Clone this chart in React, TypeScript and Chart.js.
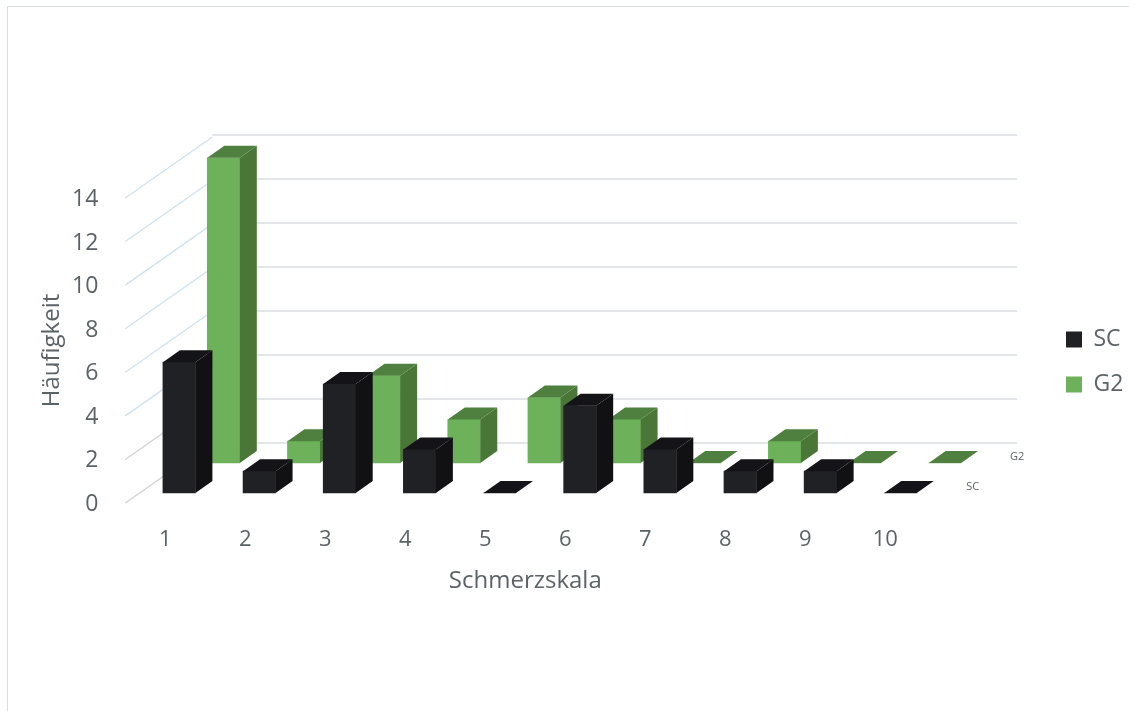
import React, { useEffect, useRef } from "react";
import { Chart, registerables } from "chart.js";

Chart.register(...registerables);

// Pain-scale frequencies per group
const categories = ["1", "2", "3", "4", "5", "6", "7", "8", "9", "10"];
const scValues = [6, 1, 5, 2, 0, 4, 2, 1, 1, 0];
const g2Values = [14, 1, 4, 2, 3, 2, 0, 1, 0, 0];
const gridValues = [0, 2, 4, 6, 8, 10, 12, 14];

const FONT = "'Open Sans', sans-serif";
const TEXT = "#5c6367";

// Colours of the three visible faces of each column
const faces = [
  { front: "#202125", side: "#111114", top: "#141418" },
  { front: "#6db25a", side: "#4a7738", top: "#4f8040" },
];

const BAR_DEPTH = { x: 17, y: 12 };
const WALL_DEPTH = 87;
const WALL_RIGHT = 1009;
const SIDE_RISE = 61;

const toPoints = (values: number[]) => values.map((y, i) => ({ x: i + 1, y }));

const polygon = (ctx: CanvasRenderingContext2D, pts: number[][], fill: string) => {
  ctx.beginPath();
  pts.forEach(([x, y], i) => (i ? ctx.lineTo(x, y) : ctx.moveTo(x, y)));
  ctx.closePath();
  ctx.fillStyle = fill;
  ctx.fill();
};

// Back and side walls of the pseudo-3D box
const wallsPlugin = {
  id: "walls",
  beforeDatasetsDraw(chart: any) {
    const { ctx, scales } = chart;
    const frontX = scales.x.left;
    const backX = frontX + WALL_DEPTH;
    ctx.save();
    ctx.lineWidth = 1.3;
    gridValues.forEach((v) => {
      const fy = scales.y.getPixelForValue(v);
      const by = scales.yWall.getPixelForValue(v);
      ctx.strokeStyle = v <= 2 ? "#d0d2d3" : "#cfe2ec";
      ctx.beginPath();
      ctx.moveTo(frontX, fy);
      ctx.lineTo(backX, fy - SIDE_RISE);
      ctx.stroke();
      ctx.strokeStyle = "#d9dee1";
      ctx.beginPath();
      ctx.moveTo(backX, by);
      ctx.lineTo(WALL_RIGHT, by);
      ctx.stroke();
    });
    ctx.restore();
  },
};

// Side and top faces for the columns, plus the series names on the depth axis
const facesPlugin = {
  id: "faces",
  afterDatasetDraw(chart: any, args: any) {
    const { ctx } = chart;
    const face = faces[args.index];
    const { x: dx, y: dy } = BAR_DEPTH;
    ctx.save();
    args.meta.data.forEach((bar: any) => {
      const l = bar.x - bar.width / 2;
      const r = bar.x + bar.width / 2;
      if (bar.base > bar.y) {
        polygon(ctx, [[r, bar.y], [r + dx, bar.y - dy], [r + dx, bar.base - dy], [r, bar.base]], face.side);
      }
      polygon(ctx, [[l, bar.y], [r, bar.y], [r + dx, bar.y - dy], [l + dx, bar.y - dy]], face.top);
    });
    ctx.restore();
  },
  afterDatasetsDraw(chart: any) {
    const { ctx, scales } = chart;
    const names = [
      { text: "SC", x: scales.xSC, y: scales.ySC },
      { text: "G2", x: scales.xG2, y: scales.yG2 },
    ];
    ctx.save();
    ctx.font = `11px ${FONT}`;
    ctx.fillStyle = TEXT;
    ctx.textAlign = "center";
    ctx.textBaseline = "middle";
    names.forEach((n) => {
      ctx.fillText(n.text, n.x.getPixelForValue(11) - 8, n.y.getPixelForValue(0) - 6);
    });
    ctx.restore();
  },
};

export default function App() {
  const ref = useRef<HTMLCanvasElement>(null);

  useEffect(() => {
    const hidden = { display: false, grid: { display: false } };
    const chart = new Chart(ref.current!, {
      type: "bar",
      data: {
        labels: categories,
        datasets: [
          {
            label: "SC",
            data: toPoints(scValues) as any,
            backgroundColor: faces[0].front,
            xAxisID: "xSC",
            yAxisID: "ySC",
            barThickness: 32.5,
            grouped: false,
            clip: false as any,
          },
          {
            label: "G2",
            data: toPoints(g2Values) as any,
            backgroundColor: faces[1].front,
            xAxisID: "xG2",
            yAxisID: "yG2",
            barThickness: 32.5,
            grouped: false,
            clip: false as any,
          },
        ],
      },
      options: {
        responsive: false,
        animation: false,
        layout: { padding: { top: 5, left: 0, right: 0, bottom: 0 } },
        plugins: {
          tooltip: { enabled: false },
          legend: {
            position: "right",
            maxWidth: 85,
            labels: {
              boxWidth: 16,
              boxHeight: 16,
              padding: 22,
              color: TEXT,
              font: { family: FONT, size: 23 },
            },
          },
        },
        scales: {
          x: {
            type: "category",
            position: "bottom",
            grid: { display: false, drawTicks: false },
            border: { display: false },
            ticks: {
              padding: 24,
              color: TEXT,
              maxRotation: 0,
              autoSkip: false,
              font: { family: FONT, size: 22 },
            },
            title: {
              display: true,
              text: "Schmerzskala",
              color: TEXT,
              font: { family: FONT, size: 24 },
              padding: { top: 115, bottom: 115 },
            },
            afterFit: (s: any) => {
              s.height = 208;
            },
          },
          y: {
            type: "linear",
            position: "left",
            min: 0,
            max: 14,
            grid: { display: false, drawTicks: false },
            border: { display: false },
            ticks: {
              stepSize: 2,
              padding: 27,
              labelOffset: 1.5,
              color: TEXT,
              font: { family: FONT, size: 23 },
            },
            title: {
              display: true,
              text: "Häufigkeit",
              color: TEXT,
              font: { family: FONT, size: 24 },
              padding: { top: 30, bottom: 30 },
            },
            afterFit: (s: any) => {
              s.width = 117.3;
            },
          },
          // The series sit on their own hidden axes, which shift each row into depth
          xSC: {
            ...hidden,
            type: "linear",
            position: "top",
            offset: false,
            min: 0.328,
            max: 10.309,
            afterFit: (s: any) => {
              s.height = 185;
            },
          },
          ySC: { ...hidden, type: "linear", position: "left", min: -0.459, max: 13.532 },
          xG2: { ...hidden, type: "linear", position: "top", offset: false, min: -0.226, max: 9.755 },
          yG2: { ...hidden, type: "linear", position: "left", min: -1.835, max: 12.156 },
          yWall: {
            ...hidden,
            type: "linear",
            position: "right",
            min: -2.727,
            max: 11.136,
            afterFit: (s: any) => {
              s.width = 118.7;
            },
          },
        },
      } as any,
      plugins: [wallsPlugin, facesPlugin],
    });
    return () => chart.destroy();
  }, []);

  return (
    <div
      style={{
        position: "absolute",
        left: 7,
        top: 6,
        width: 1121,
        height: 704,
        borderLeft: "1px solid #dcdedd",
        borderTop: "1px solid #d8e2e2",
        overflow: "hidden",
        background: "#fff",
      }}
    >
      <canvas
        ref={ref}
        width={1121}
        height={703}
        style={{ position: "absolute", left: 0, top: 1, width: 1121, height: 703 }}
      />
    </div>
  );
}
